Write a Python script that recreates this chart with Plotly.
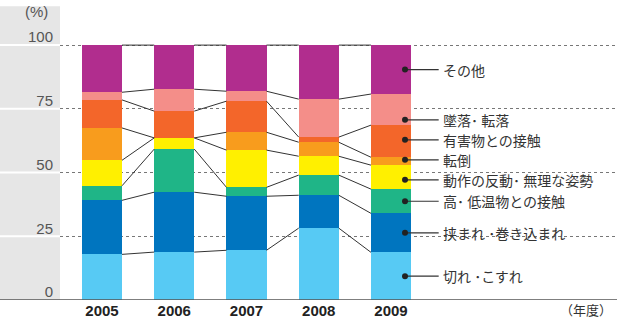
import plotly.graph_objects as go

years = ["2005", "2006", "2007", "2008", "2009"]
categories = ["切れ・こすれ", "挟まれ・巻き込まれ", "高・低温物との接触", "動作の反動・無理な姿勢",
              "転倒", "有害物との接触", "墜落・転落", "その他"]
labels = ["切れ ･こすれ", "挟まれ ･巻き込まれ", "高･ 低温物との接触", "動作の反動･ 無理な姿勢",
          "転倒", "有害物との接触", "墜落･ 転落", "その他"]
kire = [17.9, 18.8, 19.5, 28.2, 18.7]
hasamare = [21.2, 23.5, 21.2, 12.9, 15.3]
kouteion = [5.7, 16.9, 3.5, 7.9, 9.5]
dousa = [10.0, 4.4, 14.6, 7.4, 9.4]
tentou = [12.7, 0.0, 7.0, 5.5, 3.1]
yugai = [11.0, 10.5, 12.2, 2.0, 12.6]
tsuiraku = [3.0, 8.6, 3.9, 14.9, 12.2]
sonota = [18.5, 17.3, 18.1, 21.2, 19.2]
series = [kire, hasamare, kouteion, dousa, tentou, yugai, tsuiraku, sonota]
colors = ["#57CAF4", "#0075BF", "#1FB587", "#FFF000", "#F89C1D", "#F3662A", "#F48E89", "#B12D8E"]
yticks = [0, 25, 50, 75, 100]

W = 0.554
xs = list(range(len(years)))
fig = go.Figure()
for name, vals, col in zip(categories, series, colors):
    fig.add_bar(x=xs, y=vals, name=name, marker=dict(color=col, line=dict(width=0)),
                width=W, showlegend=False, hoverinfo="skip")

# cumulative boundaries
cum = []
run = [0.0] * len(years)
for vals in series:
    run = [r + v for r, v in zip(run, vals)]
    cum.append(list(run))

lx, ly = [], []
for level in cum:
    for i in range(len(years) - 1):
        lx += [i + W / 2, i + 1 - W / 2, None]
        ly += [level[i], level[i + 1], None]
fig.add_scatter(x=lx, y=ly, mode="lines", line=dict(color="#333", width=1),
                showlegend=False, hoverinfo="skip")

# label callouts on last bar
last = len(years) - 1
nudge = [0, 0, 0, -1.05, 0.55, 0.55, -4, 0]
mids = []
prev = 0.0
for k, level in enumerate(cum):
    mids.append((prev + level[last]) / 2 + nudge[k])
    prev = level[last]
dot_x = last + 0.194
end_x = last + 0.66
cx, cy = [], []
for m in mids:
    cx += [dot_x, end_x, None]
    cy += [m, m, None]
fig.add_scatter(x=cx, y=cy, mode="lines", line=dict(color="#333", width=1.2),
                showlegend=False, hoverinfo="skip")
fig.add_scatter(x=[dot_x] * len(mids), y=mids, mode="markers",
                marker=dict(color="#222", size=6), showlegend=False, hoverinfo="skip")
for lab, m in zip(labels, mids):
    fig.add_annotation(x=last + 0.70, y=m, text=lab, showarrow=False, xanchor="left",
                       yanchor="middle", borderpad=0,
                       font=dict(size=14, color="#333", family="Noto Sans CJK JP"))

L = 60
PW = 617 - L
# gray band on the left
fig.add_shape(type="rect", xref="paper", yref="paper", x0=-L / PW, x1=0, y0=0, y1=1.13,
              fillcolor="#E6E6E6", line=dict(width=0), layer="below")
for t in yticks[1:]:
    fig.add_shape(type="line", xref="paper", yref="y", x0=-L / PW, x1=0, y0=t, y1=t,
                  line=dict(color="white", width=2), layer="below")
fig.add_shape(type="line", xref="paper", yref="y", x0=-L / PW, x1=1, y0=0, y1=0,
              line=dict(color="#555", width=1.5))

fig.add_annotation(xref="paper", yref="paper", x=-L / PW + 36 / PW, y=1.11, text="(%)",
                   showarrow=False, xanchor="center", yanchor="middle",
                   font=dict(size=15, color="#555", family="Liberation Sans"))
fig.add_annotation(xref="paper", yref="paper", x=1 - 4 / PW, y=-0.038, text="（年度）",
                   showarrow=False, xanchor="right", yanchor="middle", borderpad=0,
                   font=dict(size=13, color="#333", family="Noto Sans CJK JP"))

fig.update_layout(
    width=617, height=322, margin=dict(l=L, r=0, t=40, b=22),
    paper_bgcolor="white", plot_bgcolor="white", barmode="stack",
    xaxis=dict(range=[-0.581, 7.128], tickvals=xs, ticktext=years, showgrid=False,
               zeroline=False, showline=False, ticks="",
               tickfont=dict(size=15, color="#222", family="Liberation Sans", weight="bold")),
    yaxis=dict(range=[0, 102], tickvals=yticks, showgrid=True, griddash="dot",
               gridcolor="#777", gridwidth=1, zeroline=False, showline=False, ticks="",
               ticklabelshift=-8, ticklabelstandoff=6,
               tickfont=dict(size=15, color="#555", family="Liberation Sans")),
)
fig.write_html("out.html")
